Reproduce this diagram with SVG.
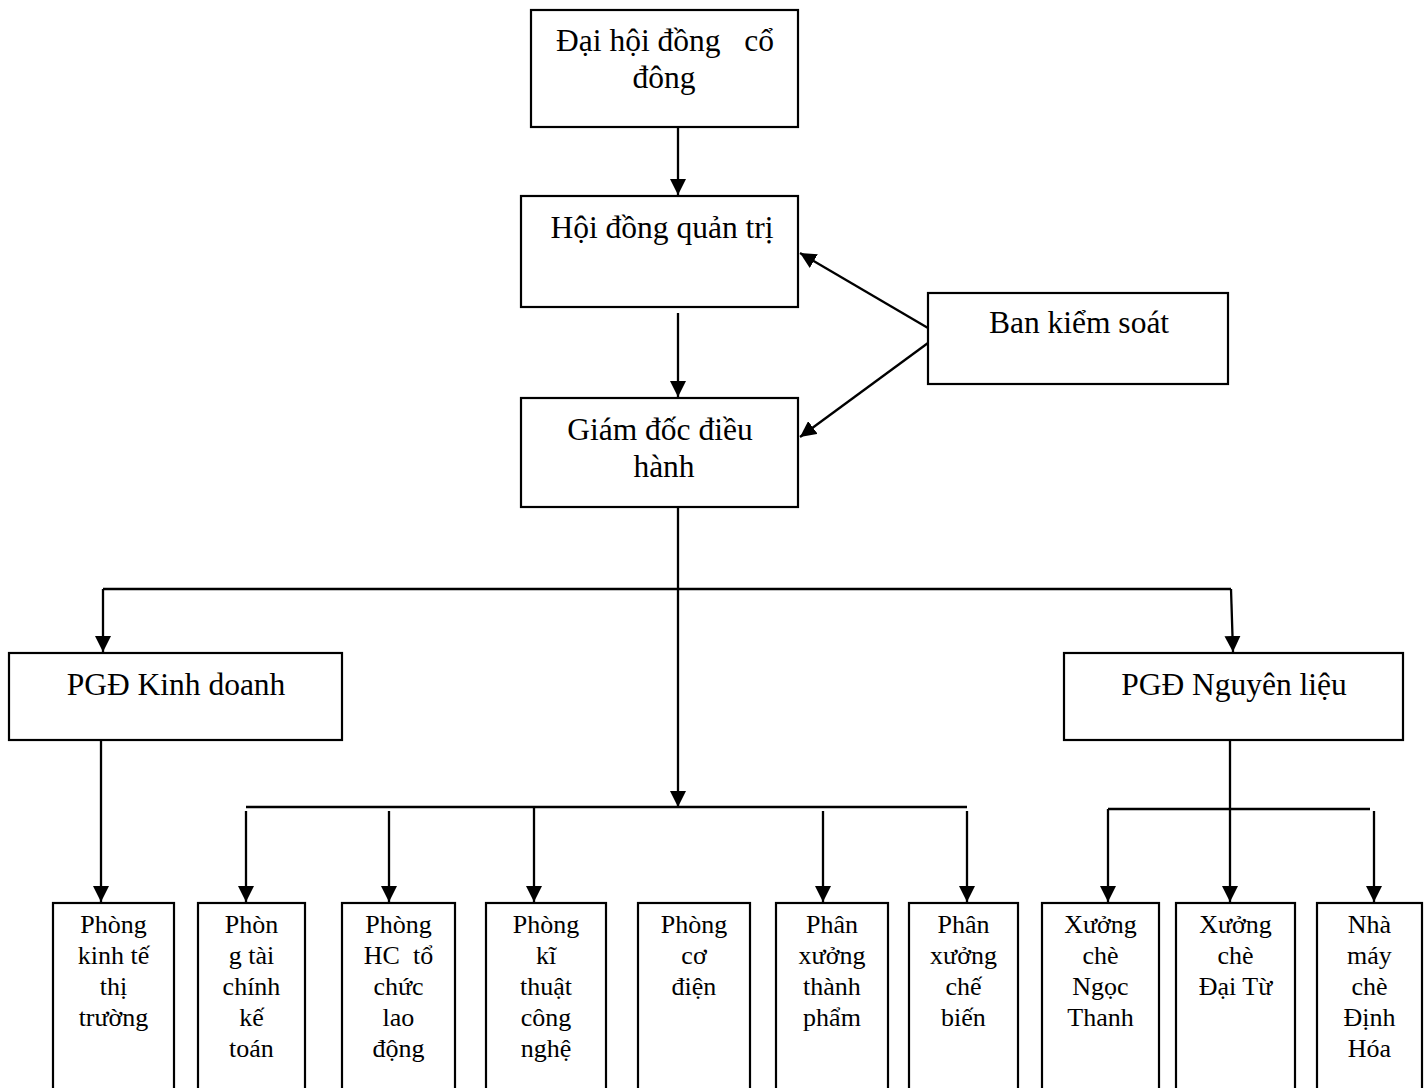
<svg xmlns="http://www.w3.org/2000/svg" width="1427" height="1088" viewBox="0 0 1427 1088">
  <style>
    .box { fill: #ffffff; stroke: #000000; stroke-width: 2.2; }
    .t { font-family: "Liberation Serif", "Times New Roman", serif; fill: #000000; text-anchor: middle; white-space: pre; }
    .big { font-size: 31.5px; }
    .small { font-size: 26px; }
    .ln { fill: none; stroke: #000000; stroke-width: 2.3; }
    .arr { fill: none; stroke: #000000; stroke-width: 2.3; marker-end: url(#head); }
  </style>
  <defs>
    <marker id="head" markerUnits="userSpaceOnUse" markerWidth="16" markerHeight="16" refX="16" refY="8" orient="auto">
      <path d="M0,0 L16,8 L0,16 Z" fill="#000000"/>
    </marker>
  </defs>
  <rect x="0" y="0" width="1427" height="1088" fill="#ffffff"/>

  <!-- connectors -->
  <g id="connectors">
    <line class="arr" x1="678" y1="127" x2="678" y2="195"/>
    <line class="arr" x1="678" y1="313" x2="678" y2="397"/>
    <line class="arr" x1="928" y1="328" x2="800" y2="253"/>
    <line class="arr" x1="928" y1="343" x2="800" y2="437"/>
    <line class="arr" x1="678" y1="507" x2="678" y2="807"/>
    <!-- branch to the two deputy directors -->
    <polyline class="ln" points="103,589 1231,589"/>
    <line class="arr" x1="103" y1="589" x2="103" y2="652"/>
    <line class="arr" x1="1231" y1="589" x2="1233" y2="652"/>
    <!-- business deputy to market office -->
    <line class="arr" x1="101" y1="740" x2="101" y2="902"/>
    <!-- director's departments bar -->
    <line class="ln" x1="246" y1="807" x2="967" y2="807"/>
    <line class="arr" x1="246" y1="811" x2="246" y2="902"/>
    <line class="arr" x1="389" y1="811" x2="389" y2="902"/>
    <line class="arr" x1="534" y1="807" x2="534" y2="902"/>
    <line class="arr" x1="823" y1="811" x2="823" y2="902"/>
    <line class="arr" x1="967" y1="811" x2="967" y2="902"/>
    <!-- raw material deputy to factories -->
    <line class="ln" x1="1230" y1="740" x2="1230" y2="809"/>
    <line class="ln" x1="1108" y1="809" x2="1370" y2="809"/>
    <line class="arr" x1="1108" y1="809" x2="1108" y2="902"/>
    <line class="arr" x1="1230" y1="809" x2="1230" y2="902"/>
    <line class="arr" x1="1374" y1="811" x2="1374" y2="902"/>
  </g>

  <!-- top level -->
  <g id="dai-hoi-dong-co-dong">
    <rect class="box" x="531" y="10" width="267" height="117"/>
    <text class="t big" x="665" y="51">Đại hội đồng   cổ</text>
    <text class="t big" x="664" y="88">đông</text>
  </g>
  <g id="hoi-dong-quan-tri">
    <rect class="box" x="521" y="196" width="277" height="111"/>
    <text class="t big" x="662" y="238">Hội đồng quản trị</text>
  </g>
  <g id="ban-kiem-soat">
    <rect class="box" x="928" y="293" width="300" height="91"/>
    <text class="t big" x="1079" y="333">Ban kiểm soát</text>
  </g>
  <g id="giam-doc-dieu-hanh">
    <rect class="box" x="521" y="398" width="277" height="109"/>
    <text class="t big" x="660" y="440">Giám đốc điều</text>
    <text class="t big" x="664" y="477">hành</text>
  </g>

  <!-- deputy directors -->
  <g id="pgd-kinh-doanh">
    <rect class="box" x="9" y="653" width="333" height="87"/>
    <text class="t big" x="176" y="695">PGĐ Kinh doanh</text>
  </g>
  <g id="pgd-nguyen-lieu">
    <rect class="box" x="1064" y="653" width="339" height="87"/>
    <text class="t big" x="1234" y="695">PGĐ Nguyên liệu</text>
  </g>

  <!-- departments and workshops -->
  <g id="phong-kinh-te-thi-truong">
    <rect class="box" x="53" y="903" width="121" height="200"/>
    <text class="t small" x="113.5" y="933">Phòng</text>
    <text class="t small" x="113.5" y="964">kinh tế</text>
    <text class="t small" x="113.5" y="995">thị</text>
    <text class="t small" x="113.5" y="1026">trường</text>
  </g>
  <g id="phong-tai-chinh-ke-toan">
    <rect class="box" x="198" y="903" width="107" height="200"/>
    <text class="t small" x="251.5" y="933">Phòn</text>
    <text class="t small" x="251.5" y="964">g tài</text>
    <text class="t small" x="251.5" y="995">chính</text>
    <text class="t small" x="251.5" y="1026">kế</text>
    <text class="t small" x="251.5" y="1057">toán</text>
  </g>
  <g id="phong-hc-to-chuc-lao-dong">
    <rect class="box" x="342" y="903" width="113" height="200"/>
    <text class="t small" x="398.5" y="933">Phòng</text>
    <text class="t small" x="398.5" y="964">HC  tổ</text>
    <text class="t small" x="398.5" y="995">chức</text>
    <text class="t small" x="398.5" y="1026">lao</text>
    <text class="t small" x="398.5" y="1057">động</text>
  </g>
  <g id="phong-ki-thuat-cong-nghe">
    <rect class="box" x="486" y="903" width="120" height="200"/>
    <text class="t small" x="546" y="933">Phòng</text>
    <text class="t small" x="546" y="964">kĩ</text>
    <text class="t small" x="546" y="995">thuật</text>
    <text class="t small" x="546" y="1026">công</text>
    <text class="t small" x="546" y="1057">nghệ</text>
  </g>
  <g id="phong-co-dien">
    <rect class="box" x="638" y="903" width="112" height="200"/>
    <text class="t small" x="694" y="933">Phòng</text>
    <text class="t small" x="694" y="964">cơ</text>
    <text class="t small" x="694" y="995">điện</text>
  </g>
  <g id="phan-xuong-thanh-pham">
    <rect class="box" x="776" y="903" width="112" height="200"/>
    <text class="t small" x="832" y="933">Phân</text>
    <text class="t small" x="832" y="964">xưởng</text>
    <text class="t small" x="832" y="995">thành</text>
    <text class="t small" x="832" y="1026">phẩm</text>
  </g>
  <g id="phan-xuong-che-bien">
    <rect class="box" x="909" y="903" width="109" height="200"/>
    <text class="t small" x="963.5" y="933">Phân</text>
    <text class="t small" x="963.5" y="964">xưởng</text>
    <text class="t small" x="963.5" y="995">chế</text>
    <text class="t small" x="963.5" y="1026">biến</text>
  </g>
  <g id="xuong-che-ngoc-thanh">
    <rect class="box" x="1042" y="903" width="117" height="200"/>
    <text class="t small" x="1100.5" y="933">Xưởng</text>
    <text class="t small" x="1100.5" y="964">chè</text>
    <text class="t small" x="1100.5" y="995">Ngọc</text>
    <text class="t small" x="1100.5" y="1026">Thanh</text>
  </g>
  <g id="xuong-che-dai-tu">
    <rect class="box" x="1176" y="903" width="119" height="200"/>
    <text class="t small" x="1235.5" y="933">Xưởng</text>
    <text class="t small" x="1235.5" y="964">chè</text>
    <text class="t small" x="1235.5" y="995">Đại Từ</text>
  </g>
  <g id="nha-may-che-dinh-hoa">
    <rect class="box" x="1317" y="903" width="105" height="200"/>
    <text class="t small" x="1369.5" y="933">Nhà</text>
    <text class="t small" x="1369.5" y="964">máy</text>
    <text class="t small" x="1369.5" y="995">chè</text>
    <text class="t small" x="1369.5" y="1026">Định</text>
    <text class="t small" x="1369.5" y="1057">Hóa</text>
  </g>
</svg>
